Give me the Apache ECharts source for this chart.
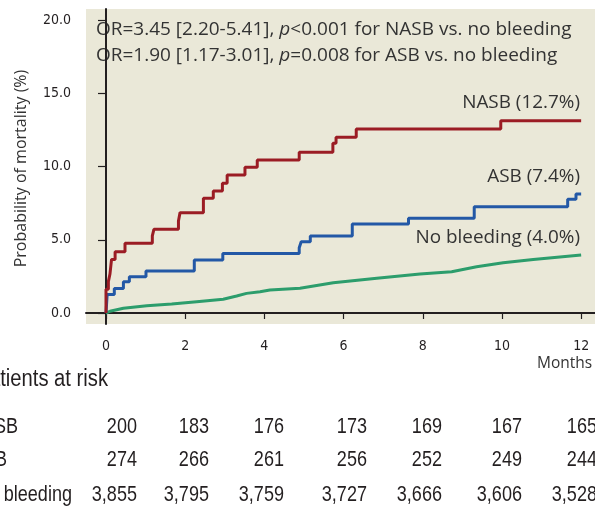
<!DOCTYPE html>
<html>
<head>
<meta charset="utf-8">
<script src="https://cdn.jsdelivr.net/npm/echarts@6/dist/echarts.min.js"></script>
<style>
html,body{margin:0;padding:0;background:#fff;}
#c{width:595px;height:509px;}
</style>
</head>
<body>
<div id="c"></div>
<script>
// ---- data ----
const nasbMonths = [0, 0.00, 0.06, 0.10, 0.14, 0.23, 0.48, 1.17, 1.21, 1.83, 1.87, 2.46, 2.71, 2.94, 3.06, 3.51, 3.82, 4.88, 5.73, 5.81, 6.32, 9.97, 12.0];
const nasbValues = [0, 1.62, 2.14, 2.66, 3.66, 4.18, 4.76, 5.26, 5.71, 6.28, 6.85, 7.83, 8.33, 8.85, 9.42, 9.95, 10.44, 10.97, 11.58, 11.99, 12.56, 13.13, 13.13];
const asbMonths = [0, 0.03, 0.21, 0.44, 0.59, 1.01, 2.23, 2.95, 4.88, 4.93, 5.16, 6.22, 7.64, 9.30, 11.66, 11.87, 12.0];
const asbValues = [0, 1.27, 1.68, 2.14, 2.48, 2.87, 3.62, 4.07, 4.46, 4.87, 5.26, 6.08, 6.46, 7.26, 7.76, 8.12, 8.12];
const noMonths = [0, 0.10, 0.44, 1.03, 1.66, 2.29, 2.96, 3.30, 3.55, 3.89, 4.14, 4.90, 5.74, 6.84, 7.93, 8.73, 9.36, 10.03, 10.79, 12.0];
const noValues = [0, 0.12, 0.32, 0.50, 0.61, 0.77, 0.94, 1.16, 1.34, 1.45, 1.57, 1.69, 2.07, 2.37, 2.66, 2.82, 3.16, 3.43, 3.66, 3.96];

const xTicks = [0, 2, 4, 6, 8, 10, 12];
const yTicks = [0, 5, 10, 15, 20];

const riskGroups = ['NASB', 'ASB', 'No bleeding'];
const riskNasb = ['200', '183', '176', '173', '169', '167', '165'];
const riskAsb = ['274', '266', '261', '256', '252', '249', '244'];
const riskNo = ['3,855', '3,795', '3,759', '3,727', '3,666', '3,606', '3,528'];

const seriesLabels = ['NASB (12.7%)', 'ASB (7.4%)', 'No bleeding (4.0%)'];
const annotLine1 = ['OR=3.45 [2.20-5.41], ', 'p', '<0.001 for NASB vs. no bleeding'];
const annotLine2 = ['OR=1.90 [1.17-3.01], ', 'p', '=0.008 for ASB vs. no bleeding'];

// ---- styles ----
const COND = "'Liberation Sans', Arial, sans-serif";
const TICKF = "'DejaVu Sans Condensed', 'DejaVu Sans', sans-serif";
const HUM = "'Open Sans', 'Noto Sans', sans-serif";
const TXT = '#333333';
const DARK = '#231f20';
const AX = '#231f20';
const CONDX = 0.86;

function zip(a, b) { return a.map((v, i) => [v, b[i]]); }

const chart = echarts.init(document.getElementById('c'), null, {renderer: 'canvas'});

const riskCols = [137, 209, 284, 367, 442, 522, 597];
const rowY = [427.5, 460.5, 495.5];
const graphics = [];

function txt(x, y, text, font, size, align, extra, color) {
  return Object.assign({type: 'text', x: x, y: y,
    style: {text: text, fontFamily: font, fontSize: size, fill: color || TXT, align: align, verticalAlign: 'middle'}}, extra || {});
}

// annotation
[annotLine1, annotLine2].forEach((parts, i) => {
  graphics.push({
    type: 'text', x: 96, y: [29.5, 55.5][i], scaleX: 1.055,
    style: {
      rich: {
        n: {fontFamily: HUM, fontSize: 18, fill: TXT},
        i: {fontFamily: HUM, fontSize: 18, fill: TXT, fontStyle: 'italic'}
      },
      text: '{n|' + parts[0] + '}{i|' + parts[1] + '}{n|' + parts[2] + '}',
      align: 'left', verticalAlign: 'middle'
    }
  });
});
// series labels
const labY = [103, 177, 238];
seriesLabels.forEach((s, i) => {
  graphics.push(txt(580, labY[i], s, HUM, 18, 'right', {scaleX: 1.05}));
});
// y axis title
graphics.push(txt(21, 168.5, 'Probability of mortality (%)', HUM, 16, 'center', {rotation: Math.PI / 2}));
// Months
graphics.push(txt(537, 363.5, 'Months', HUM, 15.5, 'left'));
// patients at risk
graphics.push(txt(108, 379.5, 'Patients at risk', COND, 23.5, 'right', {scaleX: CONDX}, DARK));
const groupRight = [18, 7, 72];
riskGroups.forEach((g, i) => {
  graphics.push(txt(groupRight[i], rowY[i], g, COND, 21.5, 'right', {scaleX: 0.84}, DARK));
});
[riskNasb, riskAsb, riskNo].forEach((row, r) => {
  row.forEach((v, c) => {
    graphics.push(txt(riskCols[c], rowY[r], v, COND, 21.5, 'right', {scaleX: 0.84}, DARK));
  });
});

const option = {
  animation: false,
  backgroundColor: '#ffffff',
  grid: {left: 86, right: 0, top: 9, bottom: 185, show: true, backgroundColor: '#EAE8D8', borderWidth: 0, containLabel: false},
  xAxis: {
    type: 'value', min: -0.505, max: 12.35,
    axisLine: {show: true, lineStyle: {color: AX, width: 2}},
    axisTick: {show: true, customValues: xTicks, length: 6, lineStyle: {color: AX, width: 1.2}},
    axisLabel: {customValues: xTicks, fontFamily: TICKF, fontSize: 14, color: DARK, margin: 15, formatter: v => String(v)},
    splitLine: {show: false}
  },
  yAxis: {
    type: 'value', min: -0.75, max: 20.75,
    axisLine: {show: true, lineStyle: {color: AX, width: 2}},
    axisTick: {show: true, customValues: yTicks, length: 8, lineStyle: {color: AX, width: 1.2}},
    axisLabel: {customValues: yTicks, fontFamily: TICKF, fontSize: 14, color: DARK, margin: 15, formatter: v => v.toFixed(1)},
    splitLine: {show: false}
  },
  series: [
    {type: 'line', name: 'No bleeding', data: zip(noMonths, noValues), showSymbol: false, lineStyle: {color: '#2C9D6C', width: 3}, z: 3},
    {type: 'line', name: 'ASB', step: 'end', data: zip(asbMonths, asbValues), showSymbol: false, lineStyle: {color: '#2358A6', width: 3}, z: 4},
    {type: 'line', name: 'NASB', step: 'end', data: zip(nasbMonths, nasbValues), showSymbol: false, lineStyle: {color: '#9B1C24', width: 3}, z: 5}
  ],
  graphic: graphics
};
chart.setOption(option);
</script>
</body>
</html>
